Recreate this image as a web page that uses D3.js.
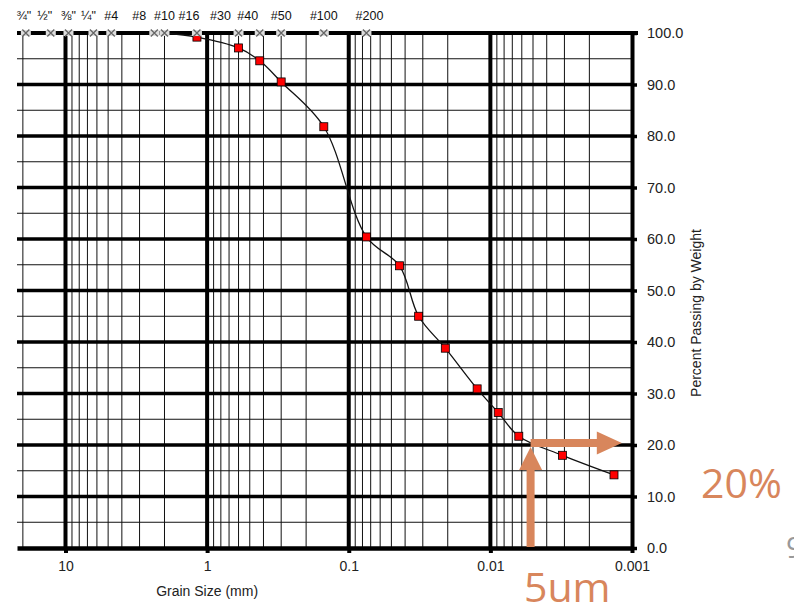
<!DOCTYPE html>
<html>
<head>
<meta charset="utf-8">
<style>
  body { margin: 0; background: #fff; }
  svg { display: block; font-family: "Liberation Sans", Arial, sans-serif; }
</style>
</head>
<body>
<div id="chart"></div>
<script src="https://cdn.jsdelivr.net/npm/d3@7"></script>
<script>
'use strict';

// sieves marked along the top edge (opening in mm)
var sieveNames = ['¾"', '½"', '⅜"', '¼"', '#4', '#8', '#10', '#16', '#30', '#40', '#50', '#100', '#200'];
var sieveSizes = [19.05, 12.7, 9.525, 6.35, 4.75, 2.36, 2.0, 1.18, 0.6, 0.425, 0.3, 0.15, 0.075];
// small label nudges so crowded names don't collide (px)
var sieveLabelShift = [-2, -6, 0, -5, 0, -15, 0, -8, -18, -12, 0, 0, 3];

// grading curve: grain size (mm) vs percent passing
var grainSize = [2.0, 1.18, 0.6, 0.425, 0.3, 0.15, 0.075, 0.0438, 0.0321, 0.0208, 0.0124, 0.0088, 0.0063, 0.0031, 0.00134];
var percentPassing = [100, 99.2, 97.1, 94.6, 90.5, 81.8, 60.4, 54.8, 45.0, 38.8, 30.9, 26.3, 21.7, 18.0, 14.2];

var xTickValues = [10, 1, 0.1, 0.01, 0.001];
var yTickValues = [0, 10, 20, 30, 40, 50, 60, 70, 80, 90, 100];
var yMinorValues = [5, 15, 25, 35, 45, 55, 65, 75, 85, 95];

// annotation: 5um -> 20%
var noteSize = 0.0052, notePct = 20, noteArrowEnd = 0.00118;

var width = 794, height = 603;
var accent = '#D8865C';

var svg = d3.select('#chart').append('svg')
    .attr('width', width).attr('height', height);

var x = d3.scaleLog().domain([22, 0.001]).range([17, 632]);
var y = d3.scaleLinear().domain([0, 100]).range([548, 33]);

var data = grainSize.map((d, i) => ({size: d, pct: percentPassing[i]}));

// vertical grid: 2..9 inside each decade, thick at decades
var minor = [];
[0.001, 0.01, 0.1, 1, 10].forEach(function(dec) {
  for (var k = 2; k <= 9; k++) {
    var v = k * dec;
    if (v <= x.domain()[0]) minor.push(v);
  }
});

var grid = svg.append('g');

grid.selectAll('.vminor').data(minor).enter().append('line')
    .attr('x1', d => x(d)).attr('x2', d => x(d))
    .attr('y1', y(100)).attr('y2', y(0))
    .attr('stroke', '#111').attr('stroke-width', 1);

grid.selectAll('.hminor').data(yMinorValues).enter().append('line')
    .attr('x1', x.range()[0]).attr('x2', x.range()[1])
    .attr('y1', d => y(d)).attr('y2', d => y(d))
    .attr('stroke', '#111').attr('stroke-width', 1);

grid.selectAll('.hmajor').data(yTickValues.slice(1, -1)).enter().append('line')
    .attr('x1', x.range()[0]).attr('x2', x.range()[1])
    .attr('y1', d => y(d)).attr('y2', d => y(d))
    .attr('stroke', '#000').attr('stroke-width', 3.5);

grid.selectAll('.vmajor').data(xTickValues.slice(0, -1)).enter().append('line')
    .attr('x1', d => x(d)).attr('x2', d => x(d))
    .attr('y1', y(100)).attr('y2', y(0))
    .attr('stroke', '#000').attr('stroke-width', 4);

// top border
svg.append('line')
    .attr('x1', x.range()[0]).attr('x2', x.range()[1] + 6)
    .attr('y1', y(100)).attr('y2', y(100))
    .attr('stroke', '#000').attr('stroke-width', 4);

// bottom axis
var xAxis = d3.axisBottom(x).tickValues(xTickValues)
    .tickFormat(d => String(d)).tickSize(5).tickSizeOuter(0).tickPadding(8);
var gx = svg.append('g').attr('transform', 'translate(0,' + y(0) + ')').call(xAxis);
gx.select('.domain').attr('stroke', '#000').attr('stroke-width', 4.5);
gx.selectAll('.tick line').attr('stroke', '#000').attr('stroke-width', 4);
gx.selectAll('.tick text').attr('font-size', 14).attr('fill', '#222')
    .attr('font-family', '"Liberation Sans", Arial, sans-serif');

// right axis
var yAxis = d3.axisRight(y).tickValues(yTickValues)
    .tickFormat(d3.format('.1f')).tickSize(5).tickSizeOuter(0).tickPadding(10);
var gy = svg.append('g').attr('transform', 'translate(' + x.range()[1] + ',0)').call(yAxis);
gy.select('.domain').attr('stroke', '#000').attr('stroke-width', 4);
gy.selectAll('.tick line').attr('stroke', '#000').attr('stroke-width', 3.5);
gy.selectAll('.tick text').attr('font-size', 14.5).attr('fill', '#222')
    .attr('font-family', '"Liberation Sans", Arial, sans-serif');

// axis titles
svg.append('text')
    .attr('x', x(1)).attr('y', 596)
    .attr('text-anchor', 'middle').attr('font-size', 14).attr('fill', '#222')
    .text('Grain Size (mm)');

svg.append('text')
    .attr('transform', 'translate(701,313) rotate(-90)')
    .attr('text-anchor', 'middle').attr('font-size', 14).attr('fill', '#222')
    .text('Percent Passing by Weight');

// grading curve
var line = d3.line()
    .x(d => x(d.size)).y(d => y(d.pct))
    .curve(d3.curveCatmullRom.alpha(0.5));

svg.append('path').datum(data)
    .attr('d', line)
    .attr('fill', 'none').attr('stroke', '#111').attr('stroke-width', 1.3);

svg.selectAll('.pt').data(data.filter(d => d.pct < 100)).enter().append('rect')
    .attr('x', d => x(d.size) - 4).attr('y', d => y(d.pct) - 4)
    .attr('width', 8).attr('height', 8)
    .attr('fill', '#ff0000').attr('stroke', '#000').attr('stroke-width', 0.8);

// sieve markers on the top border
var sieves = sieveSizes.map((d, i) => ({size: d, name: sieveNames[i], shift: sieveLabelShift[i]}));
var sg = svg.selectAll('.sieve').data(sieves).enter().append('g')
    .attr('transform', d => 'translate(' + x(d.size) + ',' + y(100) + ')');
sg.append('rect').attr('x', -5).attr('y', -3).attr('width', 10).attr('height', 6)
    .attr('fill', '#ddd');
sg.append('path').attr('d', 'M-3.5,-3.5L3.5,3.5M-3.5,3.5L3.5,-3.5')
    .attr('stroke', '#666').attr('stroke-width', 1.3);
sg.append('text')
    .attr('x', d => d.shift).attr('y', -13)
    .attr('text-anchor', 'middle').attr('font-size', 12.5).attr('fill', '#111')
    .text(d => d.name);

// annotation arrows
var ax = x(noteSize), ay = y(notePct) - 2, ax2 = x(noteArrowEnd);
var vTip = y(notePct) + 2;
svg.append('path')
    .attr('d', 'M' + (ax - 4) + ',' + (y(0) - 1) +
               'L' + (ax - 4) + ',' + (vTip + 23) +
               'L' + (ax - 11.5) + ',' + (vTip + 23) +
               'L' + ax + ',' + vTip +
               'L' + (ax + 11.5) + ',' + (vTip + 23) +
               'L' + (ax + 4) + ',' + (vTip + 23) +
               'L' + (ax + 4) + ',' + (y(0) - 1) + 'Z')
    .attr('fill', accent);
svg.append('path')
    .attr('d', 'M' + ax + ',' + (ay - 4) +
               'L' + (ax2 - 25) + ',' + (ay - 4) +
               'L' + (ax2 - 25) + ',' + (ay - 11.5) +
               'L' + ax2 + ',' + ay +
               'L' + (ax2 - 25) + ',' + (ay + 11.5) +
               'L' + (ax2 - 25) + ',' + (ay + 4) +
               'L' + ax + ',' + (ay + 4) + 'Z')
    .attr('fill', accent);

svg.append('text')
    .attr('x', 701).attr('y', 498)
    .attr('font-family', '"Open Sans", sans-serif').attr('font-size', 41)
    .attr('fill', accent).text('20%');
svg.append('text')
    .attr('x', 524).attr('y', 602)
    .attr('font-family', '"Open Sans", sans-serif').attr('font-size', 41)
    .attr('fill', accent).text('5um');
svg.append('text')
    .attr('x', 786).attr('y', 558)
    .attr('font-family', '"Open Sans", sans-serif').attr('font-size', 30)
    .attr('fill', '#999').text('9');
</script>
</body>
</html>
